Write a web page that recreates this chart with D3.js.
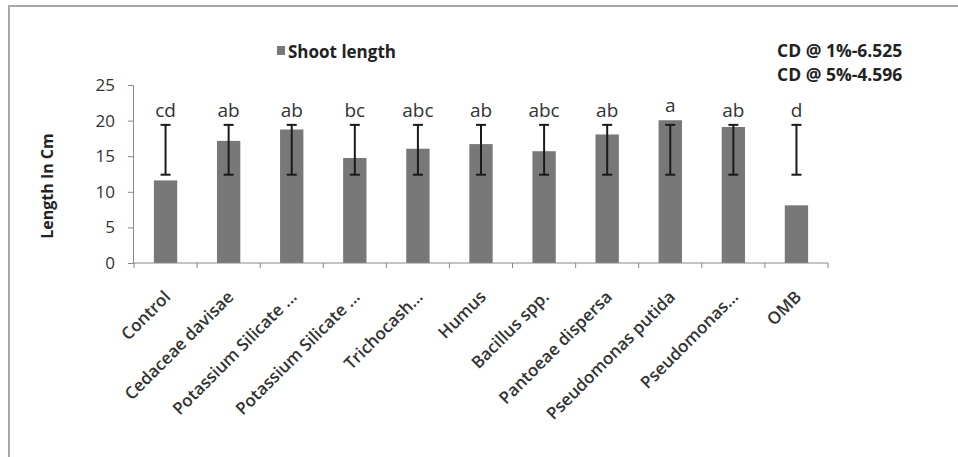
<!DOCTYPE html>
<html>
<head>
<meta charset="utf-8">
<script src="https://cdn.jsdelivr.net/npm/d3@7"></script>
<style>
  body { margin: 0; background: white; }
  svg text { font-family: "Open Sans", "Liberation Sans", sans-serif; }
</style>
</head>
<body>
<div id="plot"></div>
<script>
// data

  var categories = ["Control", "Cedaceae davisae", "Potassium Silicate ...", "Potassium Silicate ...",
      "Trichocash...", "Humus", "Bacillus spp.", "Pantoeae dispersa", "Pseudomonas putida",
      "Pseudomonas...", "OMB"];
  var shootLength = [11.6, 17.15, 18.75, 14.75, 16.05, 16.7, 15.7, 18.05, 20.05, 19.1, 8.1];
  var errLow = [12.4, 12.4, 12.4, 12.4, 12.4, 12.4, 12.4, 12.4, 12.4, 12.4, 12.4];
  var errHigh = [19.4, 19.4, 19.4, 19.4, 19.4, 19.4, 19.4, 19.4, 19.4, 19.4, 19.4];
  var letters = ["cd", "ab", "ab", "bc", "abc", "ab", "abc", "ab", "a", "ab", "d"];
  var yTicks = [0, 5, 10, 15, 20, 25];
  var cdLines = ["CD @ 1%-6.525", "CD @ 5%-4.596"];

  var w = 958;
  var h = 457;
  var margin = {top: 85, left: 134, right: 130, bottom: 194};
  var plotRight = w - margin.right;
  var plotBottom = h - margin.bottom;

  var xScale = d3.scaleBand()
      .domain(d3.range(categories.length))
      .range([margin.left, plotRight])
      .paddingInner(0.63)
      .paddingOuter(0.315);

  var xEdges = d3.scaleBand()
      .domain(d3.range(categories.length))
      .range([margin.left, plotRight]);

  var yScale = d3.scaleLinear()
      .domain([0, 25])
      .range([plotBottom, margin.top]);

// add svg

  var svg = d3.select("div#plot")
    .append("svg")
      .attr("width", w)
      .attr("height", h);

  svg.append("rect")
      .attr("x", 9)
      .attr("y", 6)
      .attr("width", w)
      .attr("height", h)
      .attr("fill", "white")
      .attr("stroke", "#a8a8a8")
      .attr("stroke-width", 2);

// bars

  svg.append("g")
    .selectAll("rect")
      .data(shootLength)
    .enter().append("rect")
      .attr("x", (d, i) => xScale(i))
      .attr("y", d => yScale(d))
      .attr("width", xScale.bandwidth())
      .attr("height", d => plotBottom - yScale(d))
      .attr("fill", "#787878");

// error bars

  var cx = i => xScale(i) + xScale.bandwidth() / 2;
  var errs = svg.append("g")
      .attr("stroke", "#1a1a1a")
      .attr("stroke-width", 2);

  categories.forEach(function(c, i) {
      errs.append("line")
          .attr("x1", cx(i)).attr("x2", cx(i))
          .attr("y1", yScale(errLow[i])).attr("y2", yScale(errHigh[i]));
      [errLow[i], errHigh[i]].forEach(function(v) {
          errs.append("line")
              .attr("x1", cx(i) - 5).attr("x2", cx(i) + 5)
              .attr("y1", yScale(v)).attr("y2", yScale(v));
      });
  });

// letters above bars

  svg.append("g")
    .selectAll("text")
      .data(letters)
    .enter().append("text")
      .attr("x", (d, i) => cx(i))
      .attr("y", (d, i) => yScale(Math.max(shootLength[i], errHigh[i])) - 8)
      .attr("text-anchor", "middle")
      .attr("font-size", "19px")
      .attr("fill", "#333")
      .text(d => d);

// axes

  var yAxis = d3.axisLeft(yScale)
      .tickValues(yTicks)
      .tickSize(5)
      .tickPadding(13);

  var gy = svg.append("g")
      .attr("transform", `translate(${margin.left - 1},0)`)
      .call(yAxis);
  gy.select(".domain").attr("stroke", "#888");
  gy.selectAll(".tick line").attr("stroke", "#888");
  gy.selectAll(".tick text")
      .attr("font-size", "17px")
      .attr("fill", "#333")
      .style("font-family", "'Open Sans', sans-serif");

  var gx = svg.append("g");
  gx.append("line")
      .attr("x1", margin.left - 1).attr("x2", plotRight)
      .attr("y1", plotBottom).attr("y2", plotBottom)
      .attr("stroke", "#888");
  gx.selectAll(".edge")
      .data(d3.range(categories.length + 1))
    .enter().append("line")
      .attr("x1", i => i < categories.length ? xEdges(i) : plotRight)
      .attr("x2", i => i < categories.length ? xEdges(i) : plotRight)
      .attr("y1", plotBottom).attr("y2", plotBottom + 5)
      .attr("stroke", "#888");

  gx.selectAll(".lab")
      .data(categories)
    .enter().append("text")
      .attr("transform", (d, i) => `translate(${cx(i) + 6},${plotBottom + 35}) rotate(-45)`)
      .attr("text-anchor", "end")
      .attr("font-size", "17px")
      .attr("font-weight", 600)
      .attr("fill", "#333")
      .text(d => d);

  svg.append("text")
      .attr("transform", "translate(53,186) rotate(-90)")
      .attr("text-anchor", "middle")
      .attr("font-size", "16px")
      .attr("font-weight", 700)
      .attr("fill", "#222")
      .text("Length In Cm");

// legend and CD values

  svg.append("rect")
      .attr("x", 277)
      .attr("y", 46)
      .attr("width", 8)
      .attr("height", 9)
      .attr("fill", "#787878");

  svg.append("text")
      .attr("x", 288)
      .attr("y", 58)
      .attr("font-size", "17px")
      .attr("font-weight", 700)
      .attr("fill", "#222")
      .text("Shoot length");

  svg.append("g")
    .selectAll("text")
      .data(cdLines)
    .enter().append("text")
      .attr("x", 777)
      .attr("y", (d, i) => 57 + i * 24)
      .attr("font-size", "17.5px")
      .attr("font-weight", 700)
      .attr("fill", "#222")
      .text(d => d);
</script>
</body>
</html>
